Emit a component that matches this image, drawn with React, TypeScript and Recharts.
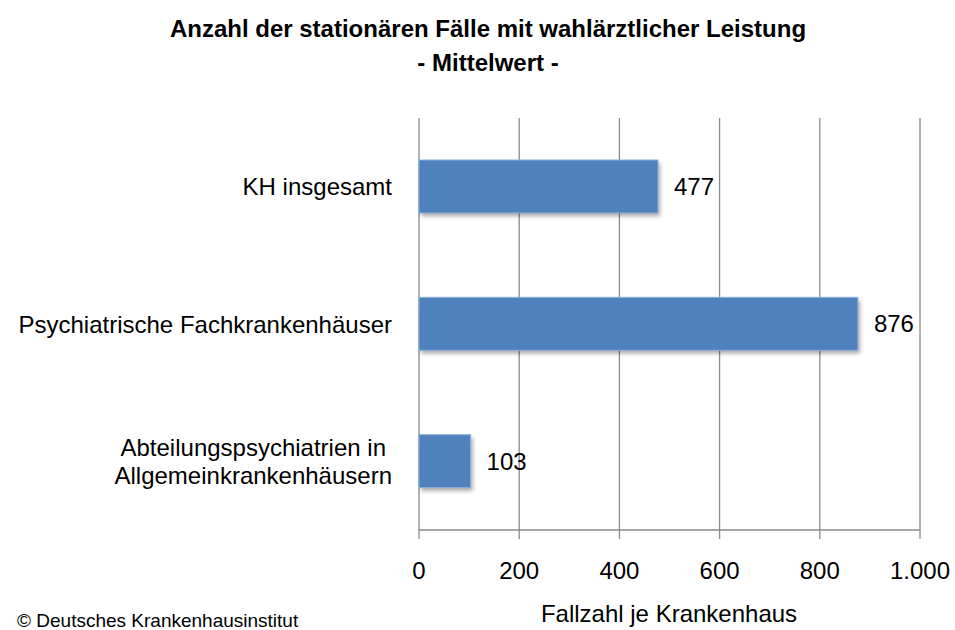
import React from "react";
import { BarChart, Bar, XAxis, YAxis, CartesianGrid, LabelList } from "recharts";

const categories = [
  "KH insgesamt",
  "Psychiatrische Fachkrankenhäuser",
  "Abteilungspsychiatrien in\nAllgemeinkrankenhäusern",
];
const values = [477, 876, 103];
const xTicks = [0, 200, 400, 600, 800, 1000];
const titleLines = ["Anzahl der stationären Fälle mit wahlärztlicher Leistung", "- Mittelwert -"];
const xAxisTitle = "Fallzahl je Krankenhaus";
const copyright = "© Deutsches Krankenhausinstitut";

const data = categories.map((name, i) => ({ name, value: values[i] }));

const FONT = "'Liberation Sans', Arial, sans-serif";
const GRID = "#8a8a8a";

let canvasCtx: CanvasRenderingContext2D | null = null;
function measure(text: string, font: string): number {
  if (!canvasCtx) {
    const c = document.createElement("canvas");
    canvasCtx = c.getContext("2d");
  }
  if (!canvasCtx) return text.length * 12;
  canvasCtx.font = font;
  return canvasCtx.measureText(text).width;
}

const YTick = (props: any) => {
  const { x, y, payload } = props;
  const lines: string[] = String(payload.value).split("\n");
  const lh = 28;
  if (lines.length === 1) {
    return (
      <text x={x} y={y} dy="0.355em" textAnchor="end" fontSize={24} fill="#000" fontFamily={FONT}>
        {lines[0]}
      </text>
    );
  }
  const maxW = Math.max(...lines.map((l) => measure(l, `24px ${FONT}`)));
  const cx = x - maxW / 2;
  return (
    <text x={cx} y={y} textAnchor="middle" fontSize={24} fill="#000" fontFamily={FONT}>
      {lines.map((l, i) => (
        <tspan key={i} x={cx} y={y + 8.5 + (i - (lines.length - 1) / 2) * lh}>
          {l}
        </tspan>
      ))}
    </text>
  );
};

const ShadowBar = (props: any) => {
  const { x, y, width, height, index } = props;
  const id = `bar-shadow-${index}`;
  return (
    <g>
      <defs>
        <filter id={id} x="-20%" y="-50%" width="140%" height="200%">
          <feGaussianBlur stdDeviation="2.2" />
        </filter>
      </defs>
      <rect x={x + 2} y={y + 3} width={width} height={height} fill="#000" opacity={0.35} filter={`url(#${id})`} />
      <rect x={x} y={y} width={width} height={height} fill="#4F81BD" stroke="#8fb0dc" strokeWidth={1} />
    </g>
  );
};

export default function App() {
  return (
    <div
      style={{
        position: "absolute",
        left: 0,
        top: 0,
        width: 955,
        height: 630,
        overflow: "hidden",
        background: "#fff",
        fontFamily: FONT,
      }}
    >
      <BarChart
        width={955}
        height={630}
        layout="vertical"
        data={data}
        margin={{ top: 118, right: 35, bottom: 0, left: 0 }}
      >
        <CartesianGrid horizontal={false} stroke={GRID} strokeWidth={1.3} />
        <XAxis
          type="number"
          domain={[0, 1000]}
          ticks={xTicks}
          interval={0}
          height={100}
          tickSize={9}
          tickMargin={23}
          stroke={GRID}
          strokeWidth={1.3}
          tick={{ fill: "#000", fontSize: 24, fontFamily: FONT }}
          tickFormatter={(v: number) => v.toLocaleString("de-DE")}
        />
        <YAxis
          type="category"
          dataKey="name"
          width={419}
          axisLine={false}
          tickLine={false}
          tickSize={0}
          tickMargin={27}
          interval={0}
          tick={<YTick />}
        />
        <Bar dataKey="value" barSize={53} fill="#4F81BD" isAnimationActive={false} shape={<ShadowBar />}>
          <LabelList dataKey="value" position="right" offset={16} fill="#000" fontSize={24} fontFamily={FONT} />
        </Bar>
      </BarChart>
      <svg
        width={955}
        height={630}
        style={{ position: "absolute", left: 0, top: 0, pointerEvents: "none" }}
      >
        <text x={488} y={37} textAnchor="middle" fontSize={24} fontWeight="bold" fill="#000" fontFamily={FONT}>
          {titleLines[0]}
        </text>
        <text x={488} y={71} textAnchor="middle" fontSize={24} fontWeight="bold" fill="#000" fontFamily={FONT}>
          {titleLines[1]}
        </text>
        <text x={669} y={622} textAnchor="middle" fontSize={24} fill="#000" fontFamily={FONT}>
          {xAxisTitle}
        </text>
        <text x={17} y={627} textAnchor="start" fontSize={19} fill="#000" fontFamily={FONT}>
          {copyright}
        </text>
      </svg>
    </div>
  );
}
